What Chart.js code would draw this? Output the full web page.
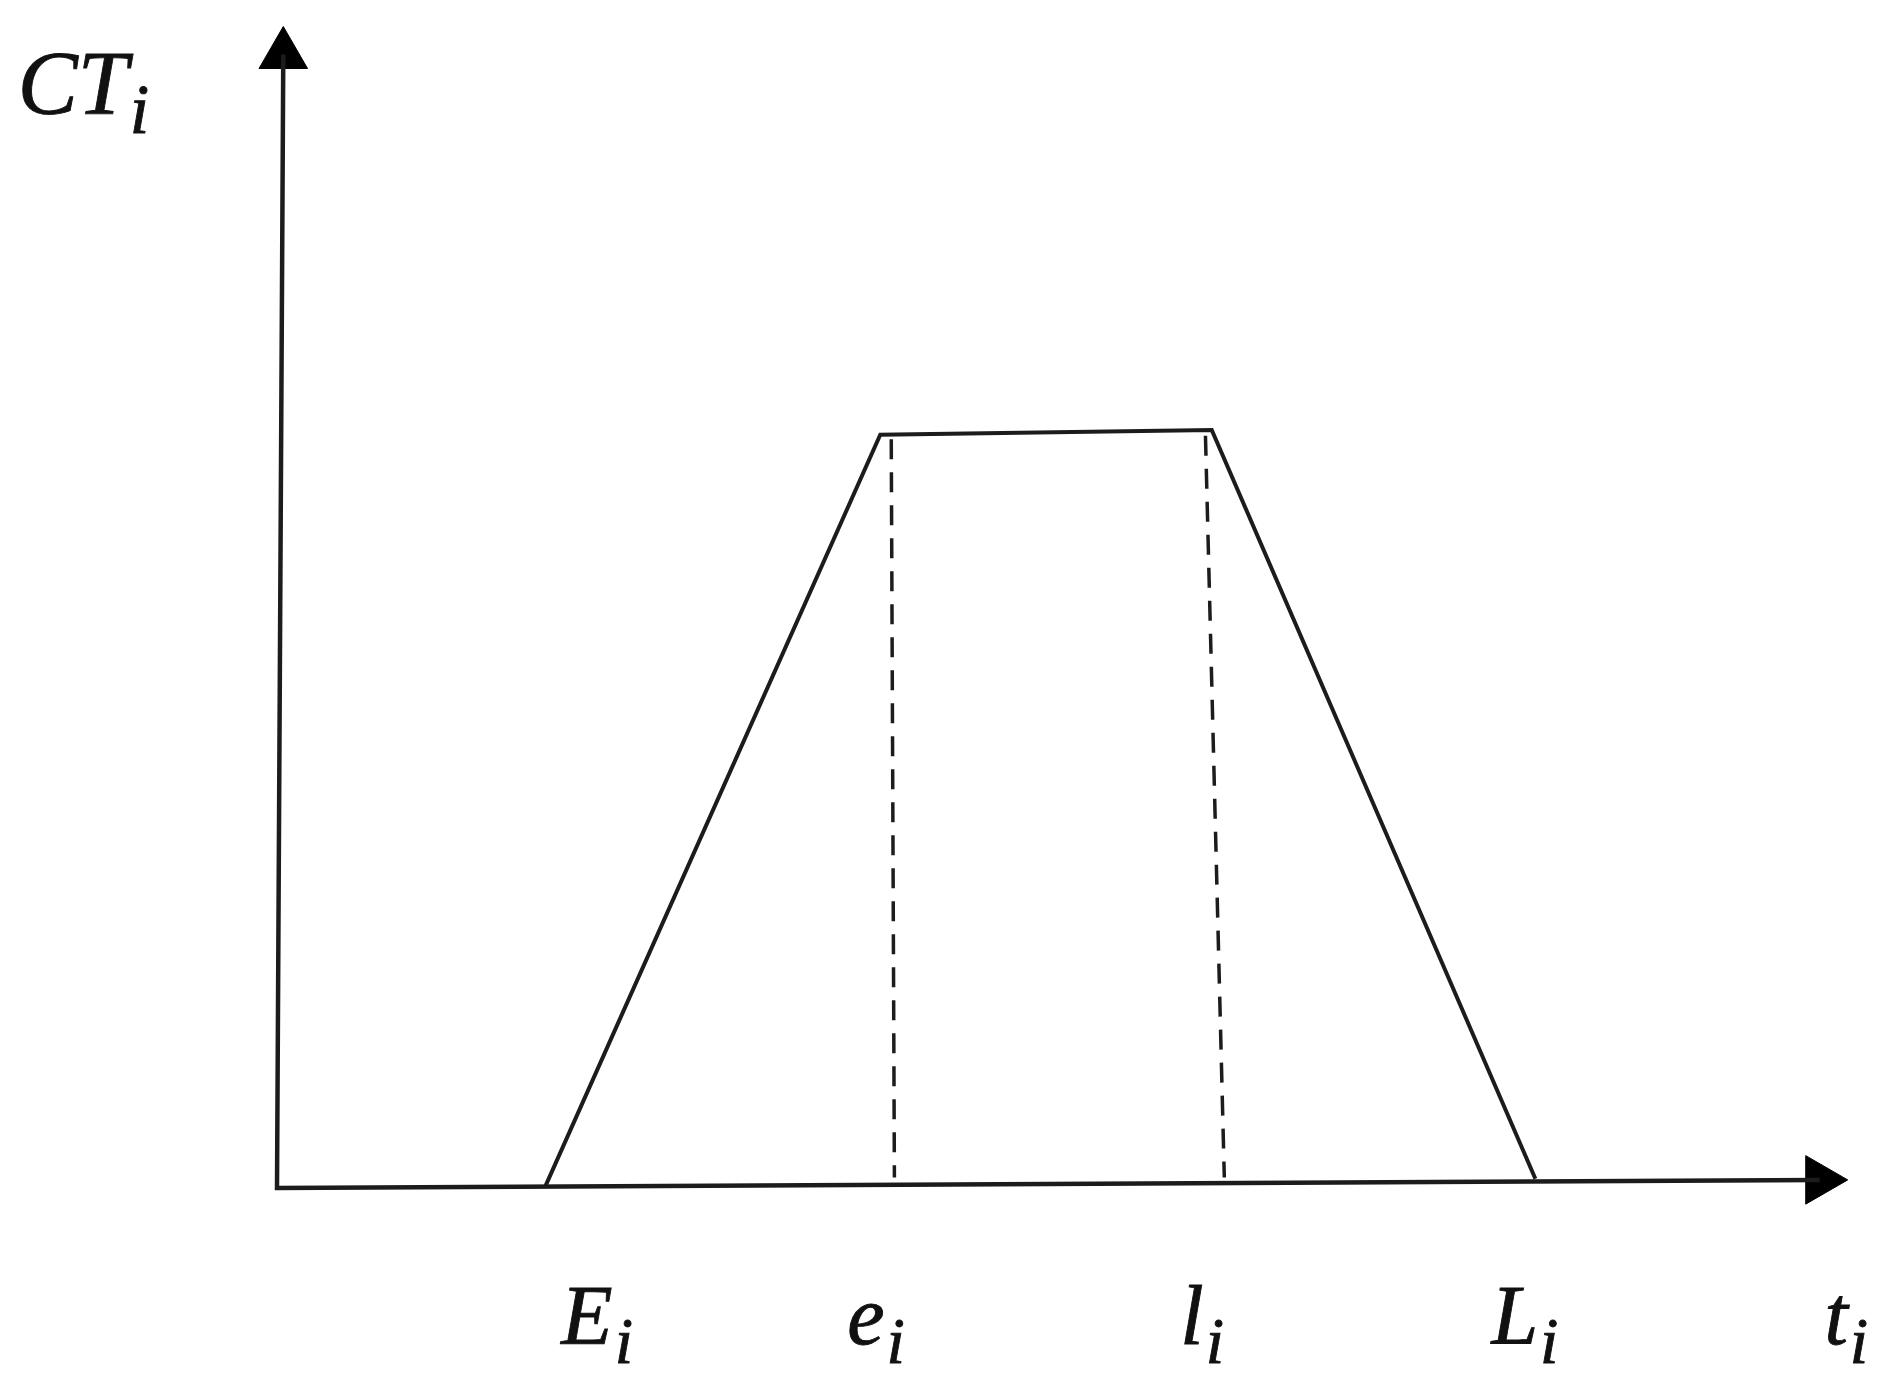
<!DOCTYPE html>
<html>
<head>
<meta charset="utf-8">
<script src="https://cdn.jsdelivr.net/npm/chart.js@4"></script>
<style>
  html, body { margin: 0; padding: 0; background: #fff; }
  #wrap { width: 1904px; height: 1386px; position: relative; }
</style>
</head>
<body>
<div id="wrap"><canvas id="chart"></canvas></div>
<script>
// axes (t_i horizontal, CT_i vertical), drawn as one polyline: top of y axis -> origin -> end of x axis
const axisT = [0.04, 0, 9.82]
const axisCT = [9.78, 0, 0.07]

// trapezoid: E_i -> e_i -> l_i -> L_i
const trapT = [1.71, 3.84, 5.95, 8.01]
const trapCT = [0.02, 6.50, 6.54, 0.08]

// dashed drop lines at e_i and l_i
const dashET = [3.91, 3.93]
const dashECT = [6.46, 0.09]
const dashLT = [5.91, 6.03]
const dashLCT = [6.49, 0.09]

// arrow heads at the axis ends
const arrowT = [0.04, 9.82]
const arrowCT = [9.78, 0.07]
const arrowRot = [0, 90]

// axis labels (letter + subscript)
const tickNames = ["E", "e", "l", "L", "t"]
const tickT = [1.81, 3.63, 5.75, 7.73, 9.85]
const tickCT = -1.35
const yName = "CT"
const yNameT = -1.65
const yNameCT = 9.27

const ink = "#1c1c1c"

const toPoints = (xs, ys) => xs.map((x, i) => ({ x: x, y: ys[i] }))

const lineSet = (xs, ys, width, dash) => ({
  data: toPoints(xs, ys),
  showLine: true,
  borderColor: ink,
  borderWidth: width,
  borderDash: dash || [],
  pointRadius: 0,
  tension: 0,
  clip: false
})

const labelPlugin = {
  id: "labels",
  afterDraw(chart) {
    const { ctx, scales } = chart
    const put = (text, px, py, size) => {
      ctx.font = `italic ${size}px "Liberation Serif", serif`
      ctx.fillText(text, px, py)
      ctx.strokeText(text, px, py)
      return ctx.measureText(text).width
    }
    const drawSub = (name, px, py, size) => {
      const w = put(name, px, py, size)
      put("i", px + w + 2, py + 19, Math.round(size * 0.78))
    }
    ctx.save()
    ctx.fillStyle = "#111"
    ctx.strokeStyle = "#111"
    ctx.lineWidth = 0.9
    ctx.textBaseline = "alphabetic"
    ctx.textAlign = "left"
    tickNames.forEach((name, i) => {
      drawSub(name, scales.x.getPixelForValue(tickT[i]), scales.y.getPixelForValue(tickCT), 84)
    })
    drawSub(yName, scales.x.getPixelForValue(yNameT), scales.y.getPixelForValue(yNameCT), 90)
    ctx.restore()
  }
}

new Chart(document.getElementById("chart"), {
  type: "scatter",
  data: {
    datasets: [
      lineSet(axisT, axisCT, 4.5),
      lineSet(trapT, trapCT, 4),
      lineSet(dashET, dashECT, 3.5, [20, 13]),
      lineSet(dashLT, dashLCT, 3.5, [20, 13]),
      {
        data: toPoints(arrowT, arrowCT),
        showLine: false,
        pointStyle: "triangle",
        pointRadius: 28,
        rotation: arrowRot,
        backgroundColor: "#000",
        borderColor: "#000",
        borderWidth: 1,
        clip: false
      }
    ]
  },
  options: {
    responsive: true,
    maintainAspectRatio: false,
    animation: false,
    layout: { padding: { left: 277, right: 56, top: 22, bottom: 198 } },
    scales: {
      x: { type: "linear", min: 0, max: 10, display: false },
      y: { type: "linear", min: 0, max: 10, display: false }
    },
    plugins: {
      legend: { display: false },
      tooltip: { enabled: false }
    }
  },
  plugins: [labelPlugin]
})
</script>
</body>
</html>
